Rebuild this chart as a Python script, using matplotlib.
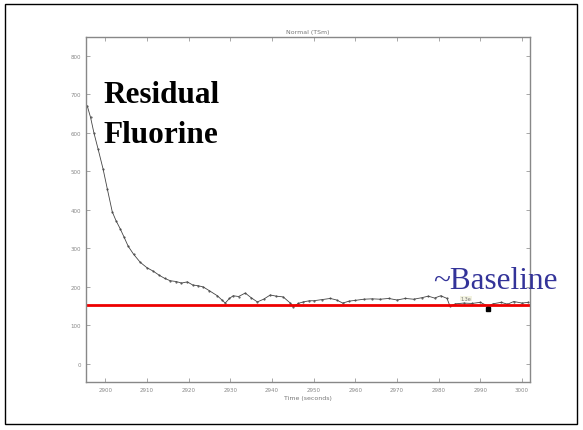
import matplotlib
matplotlib.use("Agg")
import matplotlib.pyplot as plt
from matplotlib.patches import Rectangle

# values
time_s = [2895.7, 2896.5, 2897.3, 2898.3, 2899.5, 2900.5, 2901.7, 2902.6, 2903.6,
          2904.5, 2905.5, 2906.8, 2908.4, 2910.0, 2911.5, 2913.0, 2914.3, 2915.6,
          2917.0, 2918.3, 2919.7, 2921.0, 2922.3, 2923.5, 2925.0, 2926.9, 2928.0,
          2928.8, 2929.8, 2930.7, 2932.0, 2933.6, 2935.0, 2936.5, 2938.0, 2939.6,
          2941.0, 2942.7, 2944.4, 2945.1, 2946.3, 2947.5, 2949.0, 2950.0, 2952.0,
          2954.0, 2955.5, 2957.0, 2958.5, 2960.0, 2962.0, 2964.0, 2966.0, 2968.0,
          2970.0, 2972.0, 2974.0, 2976.0, 2977.5, 2979.0, 2980.5, 2982.0, 2982.7,
          2984.0, 2986.0, 2988.0, 2990.0, 2991.8, 2993.0, 2995.0, 2996.5, 2998.0,
          3000.0, 3001.5]
signal = [670, 640, 600, 558, 506, 455, 395, 372, 351,
          330, 306, 285, 264, 250, 241, 230, 222, 216,
          214, 210, 213, 205, 203, 200, 190, 177, 166,
          158, 170, 177, 175, 184, 172, 161, 168, 179,
          176, 174, 158, 148, 157, 161, 164, 164, 167,
          170, 166, 158, 163, 165, 168, 169, 168, 170,
          166, 170, 168, 172, 176, 171, 177, 170, 150,
          156, 158, 157, 160, 150, 156, 160, 155, 162,
          158, 160]
baseline = 153
x_ticks = [2900, 2910, 2920, 2930, 2940, 2950, 2960, 2970, 2980, 2990, 3000]
y_ticks = [0, 100, 200, 300, 400, 500, 600, 700, 800]
tip_t, tip_v = 2991.8, 143

fig = plt.figure(figsize=(5.83, 4.31), dpi=100)
fig.patches.append(Rectangle((5 / 583, 6 / 431), 572 / 583, 420 / 431,
                             transform=fig.transFigure, fill=False,
                             edgecolor="black", linewidth=1.0))

ax = fig.add_axes([86 / 583, 1 - 383 / 431, 444 / 583, 345 / 431])
ax.plot(time_s, signal, color="#444444", linewidth=0.6, marker=".",
        markersize=1.0)
ax.axhline(baseline, color="#ee0000", linewidth=2.0)
ax.plot([tip_t], [tip_v], "s", color="black", markersize=2.5)
# small datatip label under the "~Baseline" note
ax.text(2986.5, 170, "1.3e", fontsize=3.5, color="#777777", ha="center",
        va="center", bbox=dict(facecolor="#f2f2e0", edgecolor="none", pad=0.3))

ax.set_xlim(2895.4, 3001.9)
ax.set_ylim(-47, 849)
ax.set_xticks(x_ticks)
ax.set_yticks(y_ticks)
ax.tick_params(direction="in", length=3, width=0.6, labelsize=4,
               colors="#999999", labelcolor="#888888",
               top=True, right=True)
for s in ax.spines.values():
    s.set_color("#888888")
    s.set_linewidth(1.0)
ax.set_title("Normal (TSm)", fontsize=4.5, color="#777777", pad=3)
ax.set_xlabel("Time (seconds)", fontsize=4.5, color="#777777", labelpad=2)

fig.text(103 / 583, 1 - 103 / 431, "Residual", fontsize=22.5,
         fontweight="bold", family="Liberation Serif", va="baseline")
fig.text(103 / 583, 1 - 143 / 431, "Fluorine", fontsize=22.5,
         fontweight="bold", family="Liberation Serif", va="baseline")
fig.text(433 / 583, 1 - 289 / 431, "~Baseline", fontsize=22.5,
         family="Liberation Serif", color="#333399", va="baseline")

fig.savefig("out.png", dpi=100)
